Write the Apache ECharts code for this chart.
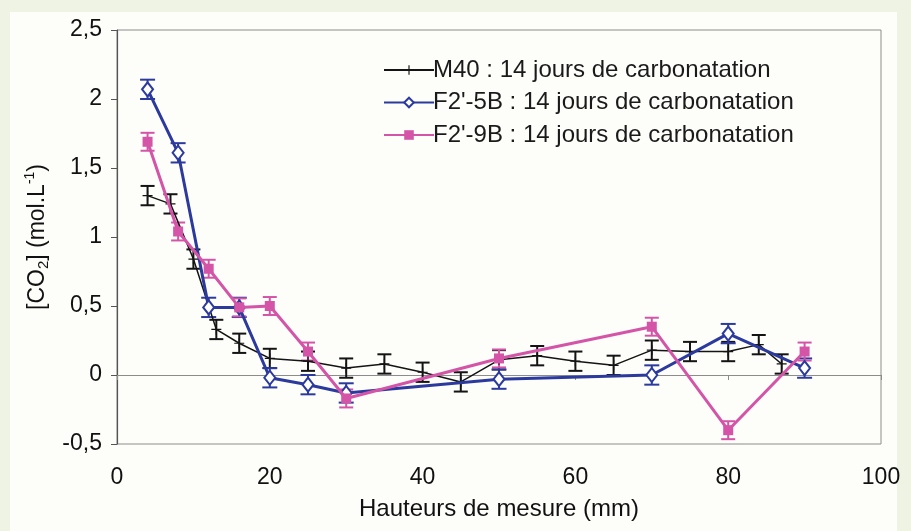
<!DOCTYPE html>
<html>
<head>
<meta charset="utf-8">
<script src="https://cdn.jsdelivr.net/npm/echarts@6/dist/echarts.min.js"></script>
<style>
  html, body { margin: 0; padding: 0; background: #eff3e3; }
  #panel { position: absolute; left: 10px; top: 12px; width: 887px; height: 519px; background: #fdfdfa; }
  #chart { position: absolute; left: 0; top: 0; width: 911px; height: 531px; }
</style>
</head>
<body>
<div id="panel"></div>
<div id="chart"></div>
<script>
// ---- data ----
const seriesNames = [
  "M40 : 14 jours de carbonatation",
  "F2'-5B : 14 jours de carbonatation",
  "F2'-9B : 14 jours de carbonatation"
];
const xM40 = [4, 7, 10, 13, 16, 20, 25, 30, 35, 40, 45, 50, 55, 60, 65, 70, 75, 80, 84, 87];
const yM40 = [1.30, 1.24, 0.84, 0.33, 0.23, 0.12, 0.10, 0.05, 0.08, 0.02, -0.05, 0.11, 0.14, 0.10, 0.07, 0.18, 0.17, 0.17, 0.22, 0.08];
const errM40 = [0.07, 0.07, 0.07, 0.07, 0.07, 0.07, 0.07, 0.07, 0.07, 0.07, 0.07, 0.07, 0.07, 0.07, 0.07, 0.07, 0.07, 0.07, 0.07, 0.07];

const xF5B = [4, 8, 12, 16, 20, 25, 30, 50, 70, 80, 90];
const yF5B = [2.07, 1.61, 0.49, 0.49, -0.02, -0.07, -0.13, -0.03, 0.00, 0.30, 0.05];
const errF5B = [0.07, 0.07, 0.07, 0.07, 0.07, 0.07, 0.07, 0.07, 0.07, 0.07, 0.07];

const xF9B = [4, 8, 12, 16, 20, 25, 30, 50, 70, 80, 90];
const yF9B = [1.69, 1.04, 0.77, 0.49, 0.50, 0.17, -0.17, 0.12, 0.35, -0.40, 0.17];
const errF9B = [0.065, 0.065, 0.065, 0.065, 0.065, 0.065, 0.065, 0.065, 0.065, 0.065, 0.065];

const xTicks = [0, 20, 40, 60, 80, 100];
const yTicks = [-0.5, 0, 0.5, 1, 1.5, 2, 2.5];

// ---- build ----
const FONT = "'Liberation Sans', Arial, sans-serif";
const cBlack = '#141414', cBlue = '#2c3a9e', cPink = '#d455a8';

function pairs(xs, ys) { return xs.map((x, i) => [x, ys[i]]); }
function errData(xs, ys, es) { return xs.map((x, i) => [x, ys[i] - es[i], ys[i] + es[i]]); }

function errSeries(xs, ys, es, color, lw, cap) {
  return {
    type: 'custom',
    silent: true,
    z: 3,
    data: errData(xs, ys, es),
    encode: { x: 0, y: [1, 2] },
    renderItem: function (params, api) {
      const lo = api.coord([api.value(0), api.value(1)]);
      const hi = api.coord([api.value(0), api.value(2)]);
      const st = { stroke: color, lineWidth: lw };
      return {
        type: 'group',
        children: [
          { type: 'line', shape: { x1: lo[0], y1: lo[1], x2: hi[0], y2: hi[1] }, style: st },
          { type: 'line', shape: { x1: lo[0] - cap, y1: lo[1], x2: lo[0] + cap, y2: lo[1] }, style: st },
          { type: 'line', shape: { x1: hi[0] - cap, y1: hi[1], x2: hi[0] + cap, y2: hi[1] }, style: st }
        ]
      };
    }
  };
}

const plusPath = 'path://M0,4.4H10V5.6H0Z M4.4,0H5.6V10H4.4Z';
const commaFmt = v => String(v).replace('.', ',');

const chart = echarts.init(document.getElementById('chart'), null, { renderer: 'canvas' });
chart.setOption({
  backgroundColor: 'transparent',
  animation: false,
  textStyle: { fontFamily: FONT },
  grid: {
    left: 117, right: 30, top: 30, bottom: 87,
    show: true, borderColor: '#8c8c8c', borderWidth: 1, backgroundColor: 'transparent'
  },
  legend: {
    orient: 'vertical',
    left: 378, top: 53,
    itemWidth: 50, itemHeight: 12, itemGap: 8.5,
    data: seriesNames,
    textStyle: { fontFamily: FONT, fontSize: 24, color: '#1a1a1a', padding: [0, 0, 0, -6] }
  },
  xAxis: [
    {
      type: 'value', min: 0, max: 100, interval: 20,
      position: 'bottom',
      axisLine: { onZero: false, show: false },
      axisTick: { show: false },
      splitLine: { show: false },
      axisLabel: { fontFamily: FONT, fontSize: 23, color: '#111', margin: 22,
        customValues: xTicks, formatter: commaFmt },
      name: 'Hauteurs de mesure (mm)',
      nameLocation: 'middle', nameGap: 53,
      nameTextStyle: { fontFamily: FONT, fontSize: 24, color: '#111' }
    },
    {
      type: 'value', min: 0, max: 100, interval: 20,
      position: 'bottom',
      axisLine: { onZero: true, lineStyle: { color: '#8c8c8c', width: 1 } },
      axisTick: { show: true, length: 5, lineStyle: { color: '#8c8c8c' } },
      axisLabel: { show: false },
      splitLine: { show: false }
    }
  ],
  yAxis: {
    type: 'value', min: -0.5, max: 2.5, interval: 0.5,
    axisLine: { show: true, lineStyle: { color: '#555', width: 1.2 } },
    axisTick: { show: true, length: 6, lineStyle: { color: '#555' } },
    splitLine: { show: false },
    axisLabel: { fontFamily: FONT, fontSize: 23, color: '#111', margin: 15,
      customValues: yTicks, formatter: commaFmt },
    name: '{a|[CO}{sub|2}{a|] (mol.L}{sup|-1}{a|)}',
    nameLocation: 'middle', nameGap: 63, nameRotate: 90,
    nameTextStyle: {
      color: '#111',
      rich: {
        a: { fontFamily: FONT, fontSize: 23, color: '#111', lineHeight: 28, verticalAlign: 'middle' },
        sub: { fontFamily: FONT, fontSize: 15, color: '#111', verticalAlign: 'bottom' },
        sup: { fontFamily: FONT, fontSize: 14, color: '#111', verticalAlign: 'top' }
      }
    }
  },
  series: [
    errSeries(xM40, yM40, errM40, cBlack, 2, 7),
    errSeries(xF5B, yF5B, errF5B, cBlue, 2, 7.5),
    errSeries(xF9B, yF9B, errF9B, cPink, 2, 7),
    {
      name: seriesNames[0], type: 'line', z: 4,
      data: pairs(xM40, yM40),
      symbol: plusPath, symbolSize: 10, showSymbol: true,
      lineStyle: { color: cBlack, width: 1.5 },
      itemStyle: { color: cBlack }
    },
    {
      name: seriesNames[1], type: 'line', z: 5,
      data: pairs(xF5B, yF5B),
      symbol: 'diamond', symbolSize: [11, 14], showSymbol: true,
      lineStyle: { color: cBlue, width: 3 },
      itemStyle: { color: '#ffffff', borderColor: cBlue, borderWidth: 2 }
    },
    {
      name: seriesNames[2], type: 'line', z: 6,
      data: pairs(xF9B, yF9B),
      symbol: 'rect', symbolSize: 10, showSymbol: true,
      lineStyle: { color: cPink, width: 3 },
      itemStyle: { color: cPink }
    }
  ]
});
</script>
</body>
</html>
